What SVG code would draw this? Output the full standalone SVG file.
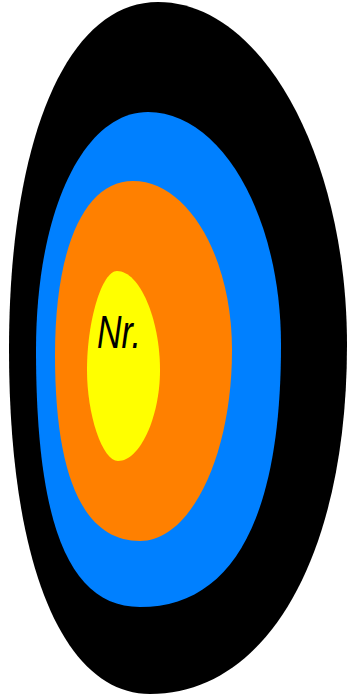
<svg xmlns="http://www.w3.org/2000/svg" width="352" height="698" viewBox="0 0 352 698">
<style>
.lbl{font-family:"Liberation Sans",Arial,sans-serif;font-style:italic;font-size:46px;fill:#000}
</style>
<rect width="352" height="698" fill="#fff"/>
<g id="outer"><path fill="#000" d="M158,2 C262,2 347,156 347,345 C347,554 268,694 150,694 C62.6,694 9,563 9,350 C9,141 66,2 158,2 Z"/></g>
<g id="blue"><path fill="#0080FF" d="M148,112 C221.5,112 281,216.3 281,345 C281,518 233,607 140,607 C69.3,607 36,524.8 36,350 C36,212 83,112 148,112 Z"/></g>
<g id="orange"><path fill="#FF8000" d="M133,181 C187.7,181 232,256.7 232,350 C232,455.5 190.8,541 140,541 C84,541 55,478 55,355 C55,247 84.6,181 133,181 Z"/></g>
<g id="yellow"><path fill="#FFFF00" d="M117,271 C139.4,271 160,318.5 160,370 C160,417.3 139.8,461 118,461 C102.5,461 87,415.5 87,370 C87,320.5 102,271 117,271 Z"/>
<text class="lbl" x="97" y="348" textLength="44" lengthAdjust="spacingAndGlyphs">Nr.</text></g>
<g id="connectors"/>
</svg>
